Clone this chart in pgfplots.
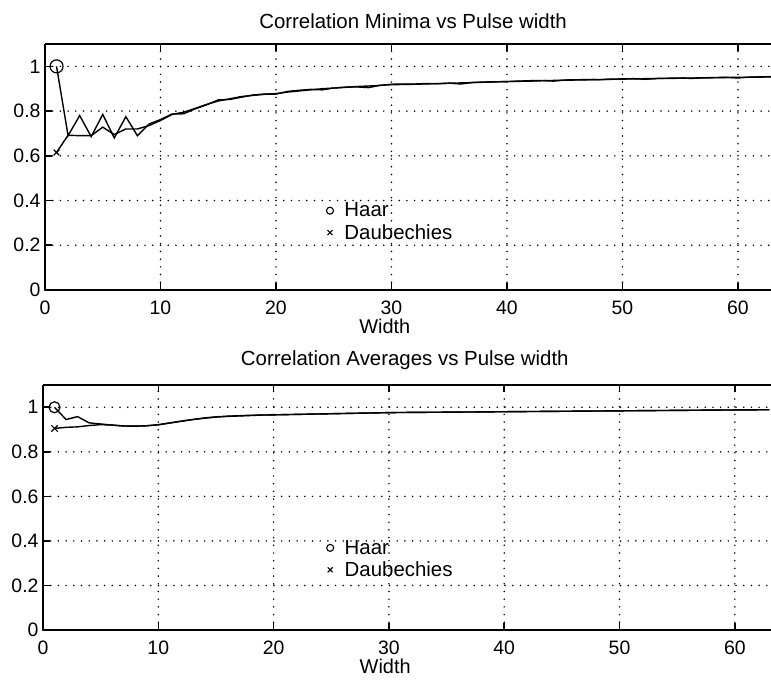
\documentclass[border=0pt]{standalone}
\usepackage{fontspec}
\setmainfont{Liberation Sans}
\usepackage{pgfplots}
\pgfplotsset{compat=1.18}
\pgfplotsset{
  corr/.style={
    scale only axis,
    ymin=0, ymax=1.1,
    axis x line=box, axis y line=left,
    axis line style={-, line width=1.8bp, black},
    every outer x axis line/.append style={-},
    every outer y axis line/.append style={-},
    every inner x axis line/.append style={-},
    every inner y axis line/.append style={-},
    xtick={0,10,20,30,40,50,60},
    ytick={0,0.2,0.4,0.6,0.8,1},
    yticklabels={0,0.2,0.4,0.6,0.8,1},
    xticklabels={0,10,20,30,40,50,60},
    grid=major,
    major grid style={black, line width=1.7bp, line cap=round, dash pattern=on 0pt off 7.7bp},
    tick style={black, line width=1.6bp},
    major tick length=7bp,
    tick align=inside,
    ticklabel style={font=\fontsize{19.5}{21}\selectfont},
    xticklabel style={yshift=-7bp},
    yticklabel style={xshift=-1bp},
    label style={font=\fontsize{20}{22}\selectfont},
    every axis title shift=0pt,
    title style={font=\fontsize{20.5}{22}\selectfont, anchor=south, yshift=12bp},
    xlabel style={anchor=north, yshift=-26bp},
    legend style={draw=none, fill=none, inner sep=0pt, font=\fontsize{20.5}{22}\selectfont,
      row sep=1bp, nodes={inner sep=2.5bp}},
    legend cell align=left,
    legend image code/.code={\draw[#1, black, line width=1.1bp] plot[only marks] coordinates {(6bp,0bp)}; \path[draw=none, fill=none] (0bp,0bp) (18bp,0bp);},
  }
}
\begin{document}
\begin{tikzpicture}
\path[use as bounding box] (0bp,0bp) rectangle (771bp,685bp);
\begin{axis}[corr, at={(45bp,395bp)}, anchor=south west,
  width=726bp, height=246bp, xmin=0, xmax=62.86,
  title={Correlation Minima vs Pulse width},
  title style={at={(axis description cs:0.507,1)}},
  xlabel={Width},
  xlabel style={at={(axis description cs:0.468,0)}},
  legend style={at={(axis description cs:0.384,0.365)}, anchor=north west}]
\addplot[black, line width=1.4bp, forget plot] coordinates {
(1,1.0)(2,0.69)(3,0.78)(4,0.686)(5,0.785)(6,0.68)(7,0.775)(8,0.69)(9,0.742)(10,0.762)
(11,0.787)(12,0.788)(13,0.81)(14,0.828)(15,0.85)(16,0.852)(17,0.862)(18,0.872)(19,0.876)(20,0.876)
(21,0.888)(22,0.893)(23,0.897)(24,0.895)(25,0.903)(26,0.907)(27,0.908)(28,0.905)(29,0.915)(30,0.92)
(31,0.921)(32,0.921)(33,0.923)(34,0.922)(35,0.925)(36,0.921)(37,0.928)(38,0.93)(39,0.931)(40,0.932)
(41,0.934)(42,0.936)(43,0.937)(44,0.934)(45,0.939)(46,0.94)(47,0.941)(48,0.94)(49,0.943)(50,0.944)
(51,0.945)(52,0.942)(53,0.946)(54,0.947)(55,0.948)(56,0.946)(57,0.949)(58,0.95)(59,0.951)(60,0.948)
(61,0.952)(62,0.953)(63,0.954)};
\addplot[black, line width=1.4bp, forget plot] coordinates {
(1,0.615)(2,0.692)(3,0.69)(4,0.69)(5,0.728)(6,0.695)(7,0.72)(8,0.72)(9,0.735)(10,0.758)
(11,0.785)(12,0.795)(13,0.812)(14,0.83)(15,0.845)(16,0.855)(17,0.865)(18,0.87)(19,0.875)(20,0.878)
(21,0.885)(22,0.89)(23,0.895)(24,0.9)(25,0.903)(26,0.906)(27,0.91)(28,0.912)(29,0.915)(30,0.918)
(32,0.92)(34,0.923)(36,0.926)(38,0.929)(40,0.932)(42,0.934)(44,0.937)(46,0.939)(48,0.941)(50,0.943)
(52,0.945)(54,0.946)(56,0.948)(58,0.949)(60,0.951)(62,0.952)(63,0.953)};
\addplot[only marks, mark=o, mark size=6.5bp, black, line width=1.2bp, forget plot] coordinates {(1,1.0)};
\addplot[only marks, mark=x, mark size=4bp, black, line width=1.2bp, forget plot] coordinates {(1,0.615)};
\addlegendimage{only marks, mark=o, mark size=3.5bp}
\addlegendentry{Haar}
\addlegendimage{only marks, mark=x, mark size=3.5bp}
\addlegendentry{Daubechies}
\end{axis}
\begin{axis}[corr, at={(43bp,55bp)}, anchor=south west,
  width=728bp, height=245bp, xmin=0, xmax=63.14,
  title={Correlation Averages vs Pulse width},
  title style={at={(axis description cs:0.497,1)}},
  xlabel={Width},
  xlabel style={at={(axis description cs:0.47,0)}},
  legend style={at={(axis description cs:0.386,0.378)}, anchor=north west}]
\addplot[black, line width=1.4bp, forget plot] coordinates {
(1,1.0)(2,0.945)(3,0.958)(4,0.93)(5,0.925)(6,0.92)(7,0.916)(8,0.915)(9,0.917)(10,0.922)
(11,0.93)(12,0.938)(13,0.945)(14,0.952)(15,0.957)(16,0.96)(17,0.962)(18,0.964)(19,0.965)(20,0.966)
(22,0.968)(24,0.97)(26,0.972)(28,0.974)(30,0.976)(32,0.977)(35,0.978)(40,0.98)(45,0.982)(50,0.984)
(55,0.986)(60,0.988)(63,0.989)};
\addplot[black, line width=1.4bp, forget plot] coordinates {
(1,0.905)(2,0.91)(3,0.912)(4,0.918)(5,0.922)(6,0.92)(7,0.916)(8,0.915)(9,0.917)(10,0.921)
(11,0.929)(12,0.937)(13,0.945)(14,0.951)(15,0.956)(16,0.959)(17,0.961)(18,0.963)(19,0.965)(20,0.966)
(22,0.968)(24,0.97)(26,0.972)(28,0.974)(30,0.976)(32,0.977)(35,0.978)(40,0.98)(45,0.982)(50,0.984)
(55,0.986)(60,0.988)(63,0.989)};
\addplot[only marks, mark=o, mark size=5.5bp, black, line width=1.2bp, forget plot] coordinates {(1,1.0)};
\addplot[only marks, mark=x, mark size=4.5bp, black, line width=1.2bp, forget plot] coordinates {(1,0.905)};
\addlegendimage{only marks, mark=o, mark size=3.5bp}
\addlegendentry{Haar}
\addlegendimage{only marks, mark=x, mark size=3.5bp}
\addlegendentry{Daubechies}
\end{axis}
\end{tikzpicture}
\end{document}
